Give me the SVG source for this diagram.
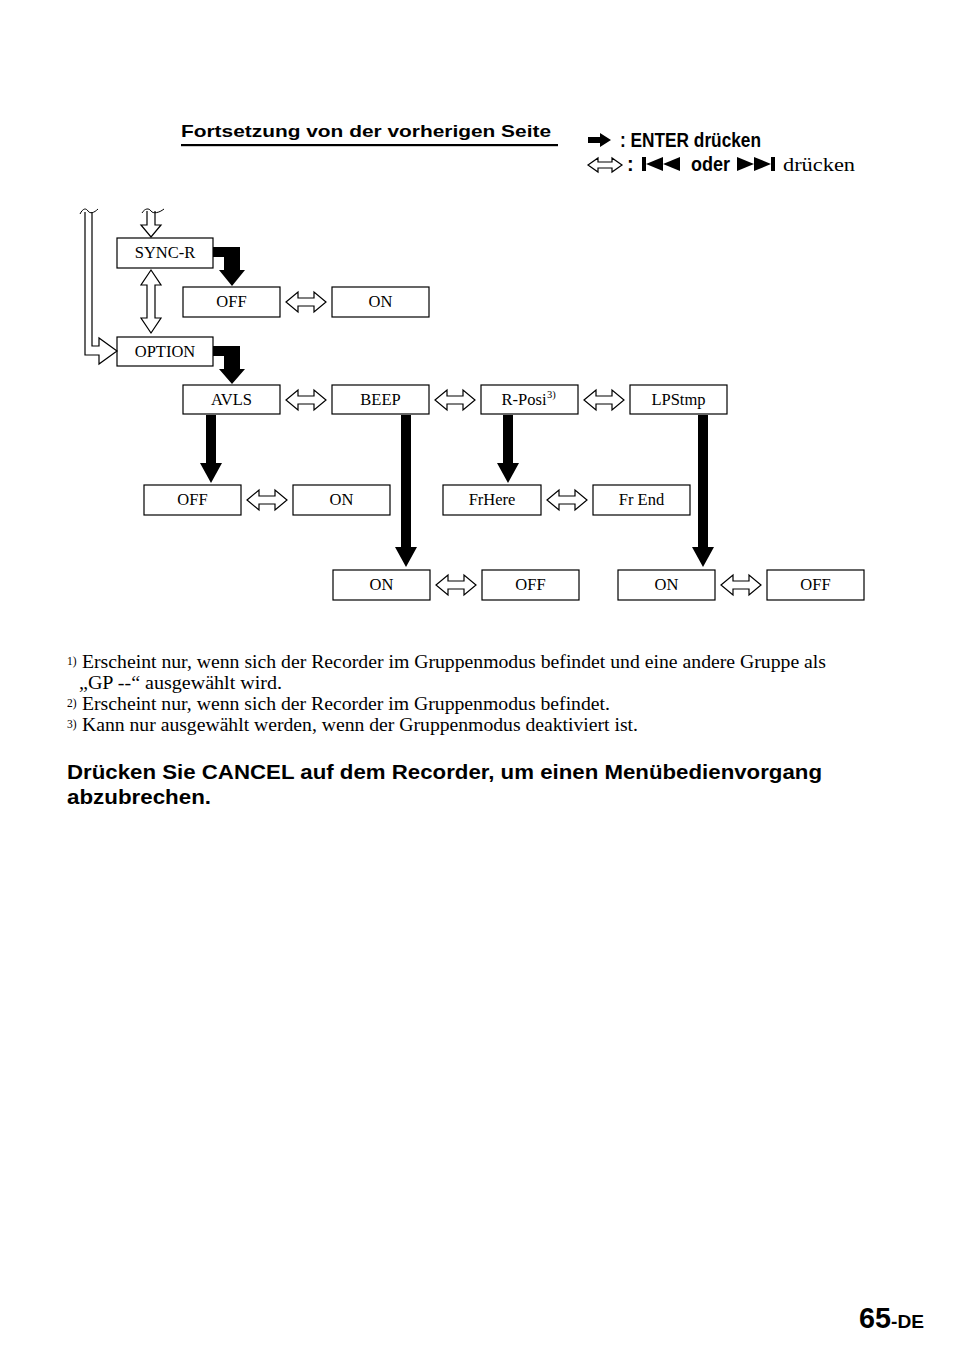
<svg xmlns="http://www.w3.org/2000/svg" width="954" height="1357" viewBox="0 0 954 1357">
<style>
.box{fill:#fff;stroke:#000;stroke-width:1.2}
.lbl{font-family:"Liberation Serif",serif;font-size:16.5px;fill:#000;text-anchor:middle}
.sup{font-family:"Liberation Serif",serif;font-size:10.5px;fill:#000}
.blk{fill:#000;stroke:none}
.hol{fill:#fff;stroke:#000;stroke-width:1.2;stroke-linejoin:miter}
.ft{font-family:"Liberation Serif",serif;font-size:18.5px;fill:#000}
.fn{font-family:"Liberation Serif",serif;font-size:11.5px;fill:#000}
.hd{font-family:"Liberation Sans",Arial,sans-serif;font-weight:bold;fill:#000}
</style>
<defs>
<path id="dbl" d="M -20,0 L -8,-10 L -8,-4 L 8,-4 L 8,-10 L 20,0 L 8,10 L 8,4 L -8,4 L -8,10 Z"/>
</defs>
<rect width="954" height="1357" fill="#fff"/>

<!-- header -->
<text class="hd" x="181" y="137" font-size="16.5" textLength="370" lengthAdjust="spacingAndGlyphs">Fortsetzung von der vorherigen Seite</text>
<rect x="181" y="144" width="377" height="2.2" fill="#000"/>

<!-- legend -->
<g id="legend">
<polygon class="blk" points="588,137 600,137 600,133 611,140 600,147 600,143 588,143"/>
<text class="hd" x="620" y="147" font-size="20" textLength="141" lengthAdjust="spacingAndGlyphs">: ENTER drücken</text>
<path class="hol" d="M 588,165 L 598,158 L 598,162 L 612,162 L 612,158 L 622,165 L 612,172 L 612,168 L 598,168 L 598,172 Z"/>
<text class="hd" x="627" y="171" font-size="20">:</text>
<rect class="blk" x="642" y="157" width="4" height="14"/>
<polygon class="blk" points="646,164 663,157 663,171"/>
<polygon class="blk" points="663,164 680,157 680,171"/>
<text class="hd" x="691" y="171" font-size="20" textLength="39" lengthAdjust="spacingAndGlyphs">oder</text>
<polygon class="blk" points="737,157 754,164 737,171"/>
<polygon class="blk" points="754,157 771,164 754,171"/>
<rect class="blk" x="771" y="157" width="4" height="14"/>
<text class="ft" x="783" y="171" font-size="20" textLength="72" lengthAdjust="spacingAndGlyphs">drücken</text>
</g>

<!-- nodes -->
<g id="n-syncr"><rect class="box" x="117" y="238" width="96" height="30"/><text class="lbl" x="165" y="258">SYNC-R</text></g>
<g id="n-sync-off"><rect class="box" x="183" y="287" width="97" height="30"/><text class="lbl" x="231.5" y="307">OFF</text></g>
<g id="n-sync-on"><rect class="box" x="332" y="287" width="97" height="30"/><text class="lbl" x="380.5" y="307">ON</text></g>
<g id="n-option"><rect class="box" x="117" y="337" width="96" height="29"/><text class="lbl" x="165" y="357">OPTION</text></g>
<g id="n-avls"><rect class="box" x="183" y="385" width="97" height="29"/><text class="lbl" x="231.5" y="405">AVLS</text></g>
<g id="n-beep"><rect class="box" x="332" y="385" width="97" height="29"/><text class="lbl" x="380.5" y="405">BEEP</text></g>
<g id="n-rposi"><rect class="box" x="481" y="385" width="97" height="29"/><text class="lbl" x="524" y="405">R-Posi</text><text class="sup" x="547" y="398">3)</text></g>
<g id="n-lpstmp"><rect class="box" x="630" y="385" width="97" height="29"/><text class="lbl" x="678.5" y="405">LPStmp</text></g>
<g id="n-avls-off"><rect class="box" x="144" y="485" width="97" height="30"/><text class="lbl" x="192.5" y="505">OFF</text></g>
<g id="n-avls-on"><rect class="box" x="293" y="485" width="97" height="30"/><text class="lbl" x="341.5" y="505">ON</text></g>
<g id="n-frhere"><rect class="box" x="443" y="485" width="98" height="30"/><text class="lbl" x="492" y="505">FrHere</text></g>
<g id="n-frend"><rect class="box" x="593" y="485" width="97" height="30"/><text class="lbl" x="641.5" y="505">Fr End</text></g>
<g id="n-beep-on"><rect class="box" x="333" y="570" width="97" height="30"/><text class="lbl" x="381.5" y="590">ON</text></g>
<g id="n-beep-off"><rect class="box" x="482" y="570" width="97" height="30"/><text class="lbl" x="530.5" y="590">OFF</text></g>
<g id="n-lp-on"><rect class="box" x="618" y="570" width="97" height="30"/><text class="lbl" x="666.5" y="590">ON</text></g>
<g id="n-lp-off"><rect class="box" x="767" y="570" width="97" height="30"/><text class="lbl" x="815.5" y="590">OFF</text></g>

<!-- connectors -->
<g id="connectors">
<path class="hol" d="M 92,212 V 346 H 99 V 338 L 117,351 L 99,364 V 355 H 85 V 212"/>
<path d="M 80,214 C 83,208 86,208 88,211 C 90,214 94,213 98,209" fill="none" stroke="#000" stroke-width="1"/>
<path class="hol" d="M 147,211 V 225 H 141 L 151,237 L 161,225 H 155 V 211"/>
<path d="M 142,213 C 145,208 149,208 151,211 C 153,214 159,213 164,209" fill="none" stroke="#000" stroke-width="1"/>
<path class="hol" d="M 151,270 L 161,285 H 155 V 318 H 161 L 151,333 L 141,318 H 147 V 285 H 141 Z"/>

<polygon class="blk" points="213,247 240,247 240,270 245,270 232,286 219,270 224,270 224,257 213,257"/>
<polygon class="blk" points="213,346 240,346 240,369 245,369 232,384 219,369 224,369 224,356 213,356"/>

<polygon class="blk" points="206,415 216,415 216,463 222,463 211,483 200,463 206,463"/>
<polygon class="blk" points="401,415 411,415 411,547 417,547 406,567 395,547 401,547"/>
<polygon class="blk" points="503,415 513,415 513,463 519,463 508,483 497,463 503,463"/>
<polygon class="blk" points="698,415 708,415 708,547 714,547 703,567 692,547 698,547"/>

<use href="#dbl" class="hol" x="306" y="302"/>
<use href="#dbl" class="hol" x="306" y="400"/>
<use href="#dbl" class="hol" x="455" y="400"/>
<use href="#dbl" class="hol" x="604" y="400"/>
<use href="#dbl" class="hol" x="267" y="500"/>
<use href="#dbl" class="hol" x="567" y="500"/>
<use href="#dbl" class="hol" x="456" y="585"/>
<use href="#dbl" class="hol" x="741" y="585"/>
</g>

<!-- footnotes -->
<text class="fn" x="67" y="665">1)</text>
<text class="ft" x="82" y="668" textLength="744" lengthAdjust="spacingAndGlyphs">Erscheint nur, wenn sich der Recorder im Gruppenmodus befindet und eine andere Gruppe als</text>
<text class="ft" x="79" y="689" textLength="203" lengthAdjust="spacingAndGlyphs">„GP --“ ausgewählt wird.</text>
<text class="fn" x="67" y="707">2)</text>
<text class="ft" x="82" y="710" textLength="528" lengthAdjust="spacingAndGlyphs">Erscheint nur, wenn sich der Recorder im Gruppenmodus befindet.</text>
<text class="fn" x="67" y="728">3)</text>
<text class="ft" x="82" y="731" textLength="556" lengthAdjust="spacingAndGlyphs">Kann nur ausgewählt werden, wenn der Gruppenmodus deaktiviert ist.</text>

<text class="hd" x="67" y="779" font-size="20.5" textLength="755" lengthAdjust="spacingAndGlyphs">Drücken Sie CANCEL auf dem Recorder, um einen Menübedienvorgang</text>
<text class="hd" x="67" y="804" font-size="20.5" textLength="144" lengthAdjust="spacingAndGlyphs">abzubrechen.</text>

<text class="hd" x="859" y="1328" font-size="29" textLength="32" lengthAdjust="spacingAndGlyphs">65</text>
<text class="hd" x="891" y="1328" font-size="19" textLength="33" lengthAdjust="spacingAndGlyphs">-DE</text>
</svg>
